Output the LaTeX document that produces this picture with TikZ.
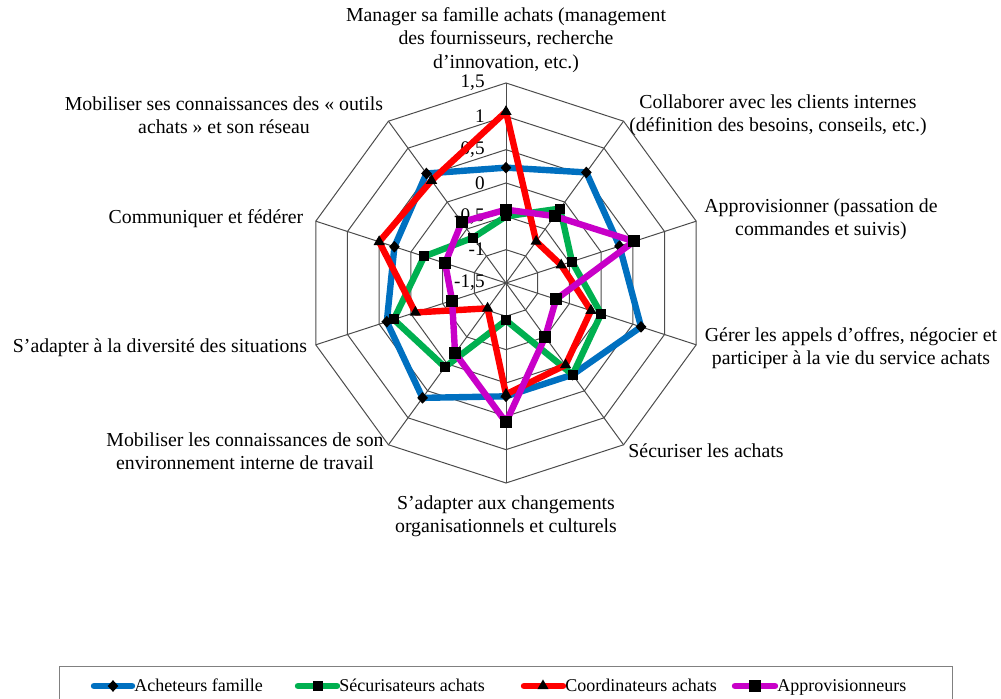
\documentclass[tikz,border=0pt]{standalone}
\usepackage{fontspec}
\setmainfont{Liberation Serif}
\usetikzlibrary{shapes.geometric}
\definecolor{achblue}{RGB}{0,112,192}
\definecolor{secgreen}{RGB}{0,176,80}
\definecolor{coordred}{RGB}{255,0,0}
\definecolor{approvmag}{RGB}{200,0,200}
\tikzset{
  gridline/.style={draw=black!70, line width=0.5pt},
  serie/.style={line width=3.2pt, line join=round},
  diamondpt/.style={diamond, fill=black, inner sep=0pt, minimum width=5.5pt, minimum height=6pt},
  squarept/.style={rectangle, fill=black, inner sep=0pt, minimum size=#1},
  trianglept/.style={regular polygon, regular polygon sides=3, fill=black, inner sep=0pt, minimum size=6.5pt},
  axislabel/.style={align=center, inner sep=0pt, font=\fontsize{9.9}{11.65}\selectfont},
  ticklabel/.style={anchor=east, inner sep=0pt, font=\fontsize{9.6}{11.65}\selectfont},
  legendtext/.style={anchor=west, inner sep=0pt, text height=1.6ex, text depth=0.3ex, font=\fontsize{9}{11}\selectfont}
}
\begin{document}
\begin{tikzpicture}[x=0.5pt,y=0.5pt]
    \useasboundingbox (-506,-416) rectangle (495,283);
    % grid of the radar
    \foreach \r in {1,...,6}
        \draw[gridline] (90:\r*200/6) \foreach \i in {1,...,9} {-- ({90-36*\i}:\r*200/6)} -- cycle;
    \foreach \i in {0,...,9}
        \draw[gridline] (0,0) -- ({90-36*\i}:200);
    % scale
    \node[ticklabel] (t0) at (-21,0) {-1,5};
    \node[ticklabel] (t1) at (-21,200/6) {-1};
    \node[ticklabel] (t2) at (-21,400/6) {-0,5};
    \node[ticklabel] (t3) at (-21,100) {0};
    \node[ticklabel] (t4) at (-21,800/6) {0,5};
    \node[ticklabel] (t5) at (-21,1000/6) {1};
    \node[ticklabel] (t6) at (-21,200) {1,5};
    % axis labels
    \node[axislabel] (ax0) at (0,243) {Manager sa famille achats (management\\des fournisseurs, recherche\\d’innovation, etc.)};
    \node[axislabel] (ax1) at (272,168) {Collaborer avec les clients internes\\(définition des besoins, conseils, etc.)};
    \node[axislabel] (ax2) at (315,64) {Approvisionner (passation de\\commandes et suivis)};
    \node[axislabel] (ax3) at (345,-65) {Gérer les appels d’offres, négocier et\\participer à la vie du service achats};
    \node[axislabel] (ax4) at (200,-168) {Sécuriser les achats};
    \node[axislabel] (ax5) at (0,-233) {S’adapter aux changements\\organisationnels et culturels};
    \node[axislabel] (ax6) at (-261,-168) {Mobiliser les connaissances de son\\environnement interne de travail};
    \node[axislabel] (ax7) at (-346,-65) {S’adapter à la diversité des situations};
    \node[axislabel] (ax8) at (-300,64) {Communiquer et fédérer};
    \node[axislabel] (ax9) at (-282,168) {Mobiliser ses connaissances des « outils\\achats » et son réseau};
    % series
    \foreach \v [count=\i from 0] in {0.23,0.55,0.29,0.63,0.2,0.2,0.63,0.38,0.26,0.53}
        \coordinate (ach\i) at ({90-36*\i}:{(\v+1.5)*200/3});
    \foreach \v [count=\i from 0] in {-0.5,-0.12,-0.46,0.0,0.2,-0.94,0.06,0.27,-0.21,-0.66}
        \coordinate (sec\i) at ({90-36*\i}:{(\v+1.5)*200/3});
    \foreach \v [count=\i from 0] in {1.07,-0.73,-0.63,-0.16,0.02,0.17,-1.03,-0.07,0.5,0.4}
        \coordinate (coo\i) at ({90-36*\i}:{(\v+1.5)*200/3});
    \foreach \v [count=\i from 0] in {-0.4,-0.26,0.52,-0.71,-0.5,0.59,-0.2,-0.65,-0.54,-0.37}
        \coordinate (app\i) at ({90-36*\i}:{(\v+1.5)*200/3});
    \draw[serie, achblue] (ach0) -- (ach1) -- (ach2) -- (ach3) -- (ach4) -- (ach5) -- (ach6) -- (ach7) -- (ach8) -- (ach9) -- cycle;
    \foreach \i in {0,...,9} \node[diamondpt] at (ach\i) {};
    \draw[serie, secgreen] (sec0) -- (sec1) -- (sec2) -- (sec3) -- (sec4) -- (sec5) -- (sec6) -- (sec7) -- (sec8) -- (sec9) -- cycle;
    \foreach \i in {0,...,9} \node[squarept=5pt] at (sec\i) {};
    \draw[serie, coordred] (coo0) -- (coo1) -- (coo2) -- (coo3) -- (coo4) -- (coo5) -- (coo6) -- (coo7) -- (coo8) -- (coo9) -- cycle;
    \foreach \i in {0,...,9} \node[trianglept] at (coo\i) {};
    \draw[serie, approvmag] (app0) -- (app1) -- (app2) -- (app3) -- (app4) -- (app5) -- (app6) -- (app7) -- (app8) -- (app9) -- cycle;
    \foreach \i in {0,...,9} \node[squarept=6pt] at (app\i) {};
    % legend
    \draw[draw=black!50, line width=0.5pt] (-446,-384) rectangle (446,-440);
    \draw[serie, line cap=round, achblue] (-412,-403) -- (-374,-403);
    \node[diamondpt] at (-393,-403) {};
    \node[legendtext] (lg1) at (-372,-403) {Acheteurs famille};
    \draw[serie, line cap=round, secgreen] (-208,-403) -- (-169,-403);
    \node[squarept=5pt] at (-188,-403) {};
    \node[legendtext] (lg2) at (-167,-403) {Sécurisateurs achats};
    \draw[serie, line cap=round, coordred] (18,-403) -- (57,-403);
    \node[trianglept] at (37,-403) {};
    \node[legendtext] (lg3) at (59,-403) {Coordinateurs achats};
    \draw[serie, line cap=round, approvmag] (229,-403) -- (269,-403);
    \node[squarept=6pt] at (249,-403) {};
    \node[legendtext] (lg4) at (271,-403) {Approvisionneurs};
\end{tikzpicture}
\end{document}
